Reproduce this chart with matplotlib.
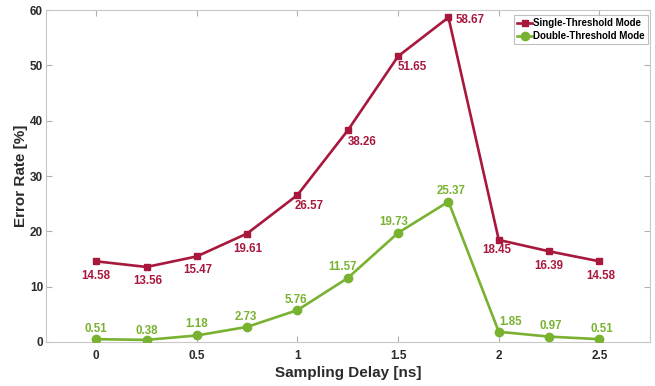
import matplotlib
matplotlib.use("Agg")
import matplotlib.pyplot as plt

plt.rcParams['font.family'] = ['Liberation Sans', 'DejaVu Sans']

delay = [0, 0.25, 0.5, 0.75, 1.0, 1.25, 1.5, 1.75, 2.0, 2.25, 2.5]
single = [14.58, 13.56, 15.47, 19.61, 26.57, 38.26, 51.65, 58.67, 18.45, 16.39, 14.58]
double = [0.51, 0.38, 1.18, 2.73, 5.76, 11.57, 19.73, 25.37, 1.85, 0.97, 0.51]
x_ticks = [0, 0.5, 1, 1.5, 2, 2.5]
x_tick_labels = ['0', '0.5', '1', '1.5', '2', '2.5']
y_ticks = [0, 10, 20, 30, 40, 50, 60]

red = '#A8173C'
green = '#78B230'

# label offsets in pixels (dx, dy), converted to points below
single_off = [(0, -15), (1, -14), (1, -14), (1, -15), (12, -11), (14, -12),
              (14, -11), (22, -3), (-2, -10), (0, -15), (1, -15)]
double_off = [(0, 10), (0, 9), (0, 11), (-1, 10), (-2, 10), (-5, 11),
              (-4, 11), (3, 11), (12, 10), (2, 11), (2, 10)]

fig = plt.figure(figsize=(6.55, 3.86), dpi=100)
ax = fig.add_axes([0.070, 0.114, 0.922, 0.860])

ax.plot(delay, single, color=red, lw=1.9, marker='s', ms=5,
        label='Single-Threshold Mode', zorder=3)
ax.plot(delay, double, color=green, lw=1.9, marker='o', ms=6,
        label='Double-Threshold Mode', zorder=3)

px2pt = 72 / 100
for xv, yv, (dx, dy) in zip(delay, single, single_off):
    ax.annotate(f'{yv:.2f}', (xv, yv), xytext=(dx * px2pt, dy * px2pt),
                textcoords='offset points', ha='center', va='center',
                fontsize=8.3, fontweight='bold', color=red)
for xv, yv, (dx, dy) in zip(delay, double, double_off):
    ax.annotate(f'{yv:.2f}', (xv, yv), xytext=(dx * px2pt, dy * px2pt),
                textcoords='offset points', ha='center', va='center',
                fontsize=8.3, fontweight='bold', color=green)

ax.set_xlim(-0.25, 2.75)
ax.set_ylim(0, 60)
ax.set_xticks(x_ticks)
ax.set_xticklabels(x_tick_labels)
ax.set_yticks(y_ticks)

for s in ax.spines.values():
    s.set_color('#c8c8c8')
    s.set_linewidth(0.8)
ax.tick_params(direction='in', length=4, width=0.8, color='#b0b0b0',
               top=True, right=True, labelsize=8.5, labelcolor='#2a2a2a')
ax.tick_params(axis='x', pad=6)
ax.tick_params(axis='y', pad=2)
for lbl in ax.get_xticklabels() + ax.get_yticklabels():
    lbl.set_fontweight('bold')

ax.set_xlabel('Sampling Delay [ns]', fontsize=11, fontweight='bold',
              color='#2a2a2a', labelpad=3)
ax.set_ylabel('Error Rate [%]', fontsize=11, fontweight='bold',
              color='#2a2a2a', labelpad=1)

leg = ax.legend(loc='upper right', bbox_to_anchor=(0.997, 0.985),
                frameon=True, fancybox=False,
                edgecolor='#b0b0b0', borderpad=0.3, handlelength=1.5,
                handletextpad=0.15, labelspacing=0.35, borderaxespad=0.0,
                prop={'weight': 'bold', 'size': 7})
leg.get_frame().set_linewidth(0.8)

fig.savefig('out.png', dpi=100)
